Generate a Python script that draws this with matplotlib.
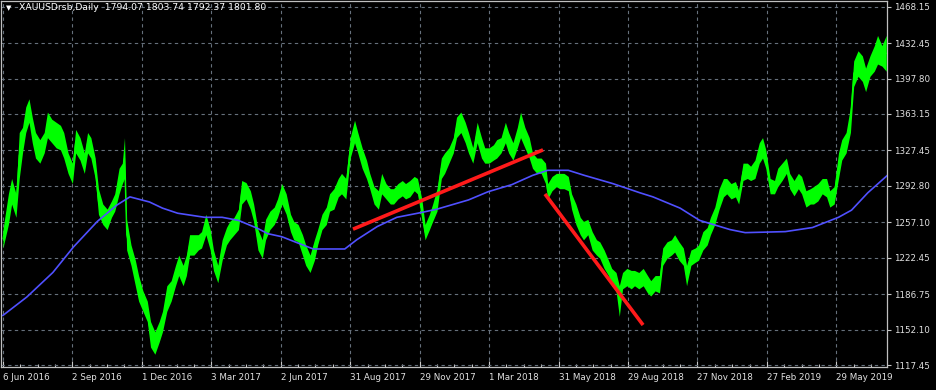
import matplotlib.pyplot as plt
from matplotlib.ticker import MultipleLocator

# XAUUSD daily, sampled bars (bar index from 6 Jun 2016) with low / high estimates
bars = [0, 5, 8, 12, 15, 18, 21, 24, 27, 30, 34, 38, 41, 45, 49, 53, 56, 60, 64, 67,
        71, 75, 78, 81, 85, 88, 92, 96, 100, 103, 107, 110, 112, 114, 118, 122, 125, 129, 133, 136,
        140, 144, 147, 151, 155, 159, 162, 166, 169, 172, 176, 180, 183, 187, 191, 194, 198, 202, 206, 209,
        213, 217, 220, 224, 228, 231, 235, 239, 242, 246, 250, 253, 257, 261, 265, 268, 272, 276, 279, 283,
        287, 290, 294, 298, 301, 305, 309, 312, 316, 320, 324, 327, 331, 335, 338, 342, 346, 349, 353, 357,
        360, 364, 368, 371, 375, 379, 382, 386, 389, 393, 396, 400, 404, 407, 411, 415, 418, 422, 426, 429,
        433, 437, 441, 444, 448, 452, 455, 459, 463, 466, 470, 474, 477, 481, 485, 488, 492, 496, 500, 502,
        506, 510, 513, 517, 521, 524, 528, 532, 535, 539, 543, 547, 550, 554, 558, 561, 565, 568, 571, 575,
        579, 582, 586, 590, 594, 597, 601, 605, 608, 612, 616, 619, 623, 627, 630, 634, 638, 641, 645, 649,
        652, 656, 660, 664, 667, 671, 675, 678, 682, 686, 689, 693, 697, 700, 703, 707, 711, 714, 718, 722,
        725, 729, 733, 736, 740, 744, 747, 751, 755, 759, 762, 766, 770, 773, 777, 781, 784, 788, 792, 795,
        799, 803, 806, 810, 814]
low = [1232, 1255, 1275, 1262, 1300, 1325, 1345, 1355, 1335, 1320, 1315, 1325, 1340, 1335, 1330, 1328, 1320, 1305, 1295, 1325,
       1318, 1305, 1325, 1320, 1300, 1265, 1255, 1250, 1262, 1268, 1285, 1295, 1300, 1230, 1215, 1195, 1180, 1170, 1160, 1135,
       1128, 1140, 1150, 1170, 1180, 1195, 1205, 1195, 1205, 1225, 1225, 1230, 1232, 1245, 1230, 1210, 1198, 1220, 1235, 1240,
       1245, 1250, 1275, 1280, 1270, 1258, 1230, 1222, 1240, 1250, 1255, 1262, 1275, 1265, 1248, 1240, 1238, 1225, 1215, 1208,
       1220, 1235, 1250, 1255, 1268, 1270, 1282, 1285, 1280, 1320, 1335, 1325, 1310, 1300, 1290, 1275, 1270, 1285, 1280, 1275,
       1275, 1280, 1283, 1280, 1282, 1288, 1285, 1260, 1240, 1250, 1258, 1268, 1300, 1305, 1315, 1325, 1340, 1345, 1335, 1325,
       1315, 1335, 1320, 1315, 1315, 1318, 1320, 1325, 1335, 1325, 1318, 1330, 1340, 1330, 1320, 1310, 1305, 1305, 1295, 1280,
       1288, 1292, 1290, 1290, 1288, 1270, 1255, 1245, 1240, 1245, 1230, 1225, 1222, 1212, 1205, 1195, 1190, 1165, 1192, 1195,
       1192, 1195, 1192, 1195, 1188, 1185, 1190, 1188, 1215, 1222, 1225, 1228, 1220, 1215, 1195, 1215, 1218, 1220, 1230, 1235,
       1245, 1255, 1270, 1282, 1285, 1280, 1282, 1275, 1298, 1300, 1298, 1300, 1315, 1320, 1310, 1285, 1285, 1292, 1298, 1305,
       1290, 1283, 1290, 1285, 1272, 1275, 1275, 1278, 1285, 1282, 1272, 1275, 1300, 1318, 1325, 1345, 1390, 1400, 1395, 1385,
       1400, 1405, 1412, 1410, 1405]
high = [1250, 1285, 1300, 1285, 1345, 1350, 1370, 1378, 1360, 1345, 1338, 1345, 1365, 1358, 1355, 1352, 1345, 1325, 1315, 1348,
        1340, 1325, 1345, 1340, 1320, 1290, 1275, 1270, 1278, 1285, 1310, 1315, 1340, 1260, 1235, 1220, 1205, 1190, 1180, 1160,
        1150, 1160, 1170, 1195, 1200, 1215, 1225, 1215, 1225, 1245, 1245, 1245, 1248, 1265, 1250, 1230, 1215, 1240, 1252, 1258,
        1262, 1270, 1298, 1296, 1288, 1275, 1250, 1240, 1260, 1268, 1272, 1280, 1295, 1285, 1265, 1258, 1255, 1245, 1235, 1225,
        1240, 1250, 1265, 1272, 1285, 1290, 1300, 1305, 1300, 1340, 1357, 1345, 1330, 1318, 1305, 1292, 1288, 1305, 1295, 1290,
        1290, 1295, 1298, 1295, 1298, 1302, 1300, 1280, 1255, 1265, 1275, 1290, 1320, 1325, 1330, 1340, 1360, 1365, 1355, 1345,
        1330, 1355, 1340, 1330, 1330, 1333, 1338, 1340, 1355, 1345, 1335, 1350, 1365, 1350, 1340, 1325, 1320, 1320, 1315, 1295,
        1302, 1305, 1305, 1305, 1302, 1285, 1275, 1262, 1258, 1260, 1248, 1240, 1238, 1230, 1220, 1212, 1208, 1195, 1208, 1212,
        1210, 1210, 1208, 1212, 1205, 1200, 1205, 1205, 1232, 1238, 1240, 1245, 1238, 1232, 1215, 1230, 1232, 1235, 1248, 1252,
        1262, 1272, 1290, 1300, 1300, 1295, 1297, 1288, 1315, 1315, 1312, 1318, 1335, 1340, 1328, 1300, 1298, 1310, 1315, 1320,
        1305, 1298, 1305, 1302, 1288, 1290, 1292, 1295, 1300, 1300, 1288, 1292, 1325, 1338, 1345, 1370, 1415, 1425, 1420, 1408,
        1420, 1430, 1440, 1430, 1440]

# moving average (blue)
ma_bars = [0, 22, 46, 65, 87, 105, 117, 135, 147, 161, 186, 202, 217, 235, 244, 257, 269, 286, 315, 326,
           345, 363, 387, 400, 429, 447, 469, 488, 502, 521, 536, 562, 587, 599, 624, 642, 670, 684, 721, 746,
           770, 782, 797, 815]
ma = [1166, 1184, 1208, 1233, 1258, 1274, 1282, 1277, 1271, 1266, 1262, 1262, 1259, 1251, 1246, 1243, 1238, 1231, 1231, 1240,
      1253, 1262, 1267, 1270, 1279, 1287, 1294, 1303, 1308, 1308, 1303, 1295, 1286, 1282, 1271, 1259, 1250, 1247, 1248, 1252,
      1262, 1269, 1286, 1303]

# hand-drawn trend lines
trend_up = ([322.6, 497.7], [1250.4, 1328.0])
trend_down = ([499.5, 589.9], [1284.8, 1156.6])

price_ticks = [1117.45, 1152.10, 1186.75, 1222.45, 1257.10, 1292.80, 1327.45, 1363.15, 1397.80, 1432.45, 1468.15]
date_ticks = [0, 64, 128, 192, 256, 320, 384, 448, 512, 576, 640, 704, 768]
date_labels = ['6 Jun 2016', '2 Sep 2016', '1 Dec 2016', '3 Mar 2017', '2 Jun 2017', '31 Aug 2017',
               '29 Nov 2017', '1 Mar 2018', '31 May 2018', '29 Aug 2018', '27 Nov 2018',
               '27 Feb 2019', '29 May 2019']

fig = plt.figure(figsize=(9.36, 3.9), dpi=100, facecolor='black')
ax = fig.add_axes([1 / 936, 23 / 390, 886 / 936, 366 / 390], facecolor='black')

mid = [(l + h) / 2 for l, h in zip(low, high)]
ax.fill_between(bars, low, high, color='#00ff00', linewidth=0, zorder=3)
ax.plot(bars, mid, color='#00ff00', linewidth=0.8, zorder=3)
ax.plot(ma_bars, ma, color='#5050ff', linewidth=1.2, zorder=4)
ax.plot(*trend_up, color='#ff1a1a', linewidth=2.6, zorder=5, solid_capstyle='butt')
ax.plot(*trend_down, color='#ff1a1a', linewidth=2.6, zorder=5, solid_capstyle='butt')

ax.set_xlim(-1.8, 814.7)
ax.set_ylim(1115.5, 1473.7)

ax.yaxis.tick_right()
ax.set_yticks(price_ticks)
ax.set_yticklabels(['%.2f' % p for p in price_ticks])
ax.set_xticks(date_ticks)
ax.set_xticklabels(date_labels, ha='left')
ax.xaxis.set_minor_locator(MultipleLocator(16))
ax.tick_params(axis='y', colors='#c8c8c8', labelsize=6.3, length=3, width=0.8, pad=2,
               labelcolor='#e0e0e0')
ax.tick_params(axis='x', which='major', colors='#c8c8c8', labelsize=6.3, length=4, width=0.8,
               direction='in', pad=4, labelcolor='#e0e0e0')
ax.tick_params(axis='x', which='minor', colors='#c8c8c8', length=2, width=0.8, direction='in')

ax.grid(True, color='#66707c', linestyle=(0, (3, 3)), linewidth=0.8, zorder=1)
for s in ax.spines.values():
    s.set_color('#c0c0c0')
    s.set_linewidth(0.9)

fig.text(6 / 936, 1 - 8 / 390, '\u25bc', color='white', fontsize=5, va='center', ha='left')
fig.text(19 / 936, 1 - 8 / 390, 'XAUUSDrsb,Daily  1794.07 1803.74 1792.37 1801.80',
         color='white', fontsize=6.7, va='center', ha='left')

fig.savefig('out.png', dpi=100, facecolor='black')
